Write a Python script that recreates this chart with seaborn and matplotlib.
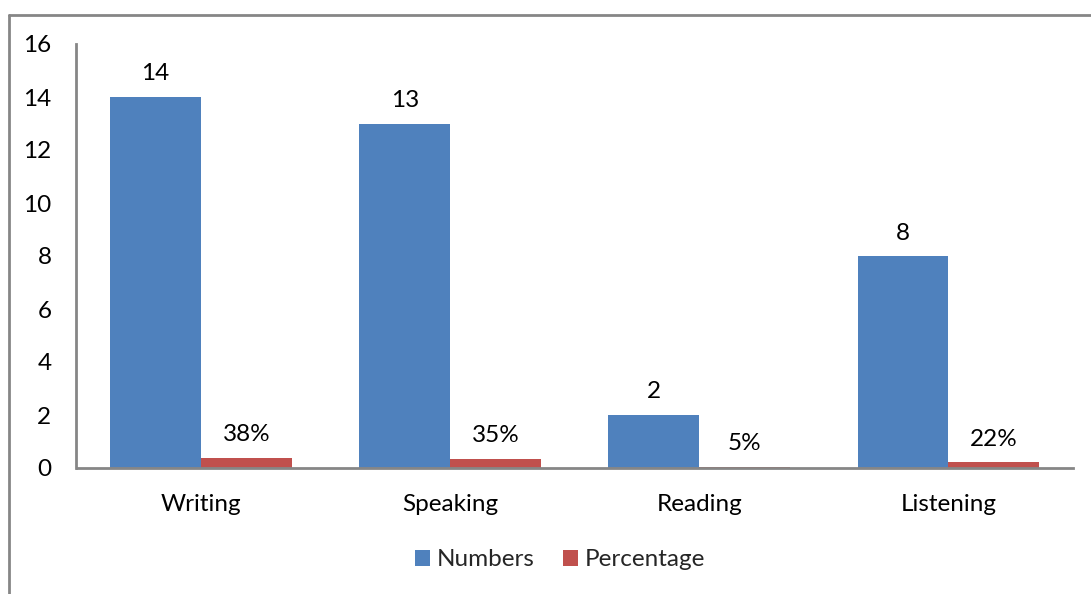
import matplotlib
matplotlib.use("Agg")
import matplotlib.pyplot as plt
from matplotlib.lines import Line2D
from matplotlib.patches import Patch
import pandas as pd
import seaborn as sns

skills = ["Writing", "Speaking", "Reading", "Listening"]
numbers = [14, 13, 2, 8]
percentage = [0.38, 0.35, 0.05, 0.22]
series_names = ["Numbers", "Percentage"]
yticks = [0, 2, 4, 6, 8, 10, 12, 14, 16]

blue = "#4F81BD"
red = "#C0504D"
grey = "#868686"
fs = 17.5

df = pd.DataFrame({
    "Skill": skills * 2,
    "Series": [series_names[0]] * len(skills) + [series_names[1]] * len(skills),
    "Value": numbers + percentage,
})

sns.set_theme(style="white")
plt.rcParams["font.family"] = ["Lato", "DejaVu Sans"]

fig = plt.figure(figsize=(10.91, 5.94), dpi=100)
ax = fig.add_axes([76.5 / 1091, 1 - 468 / 594, (1073 - 76.5) / 1091, (468 - 44) / 594])

sns.barplot(data=df, x="Skill", y="Value", hue="Series", order=skills,
            hue_order=series_names, palette=[blue, red], width=0.73, gap=0,
            saturation=1, legend=False, ax=ax, errorbar=None, linewidth=0)

# value labels above each bar
for container, fmt in zip(ax.containers, ["{:.0f}", "{:.0%}"]):
    labels = [fmt.format(v) for v in container.datavalues]
    ax.bar_label(container, labels=labels, padding=9, fontsize=fs, color="black")

ax.set_xlim(-0.5, 3.5)
ax.set_ylim(0, 16)
ax.set_yticks(yticks)
ax.set_xlabel("")
ax.set_ylabel("")
ax.tick_params(axis="both", length=0, labelsize=fs, colors="black")
ax.tick_params(axis="y", pad=18)
ax.tick_params(axis="x", pad=19)
for side in ["top", "right"]:
    ax.spines[side].set_visible(False)
for side in ["left", "bottom"]:
    ax.spines[side].set_color(grey)
    ax.spines[side].set_linewidth(2)
ax.grid(False)

handles = [Patch(facecolor=blue, edgecolor="none"), Patch(facecolor=red, edgecolor="none")]
fig.legend(handles, series_names, loc="center", bbox_to_anchor=(560 / 1091, 1 - 560 / 594),
           ncol=2, frameon=False, fontsize=fs, handlelength=0.62, handleheight=0.62,
           handletextpad=0.3, columnspacing=1.15)

# chart area frame (left and top edges)
fx = 8.5 / 1091
fy = 1 - 14.5 / 594
fig.add_artist(Line2D([fx, fx], [0, fy], transform=fig.transFigure, color=grey, lw=2))
fig.add_artist(Line2D([fx, 1], [fy, fy], transform=fig.transFigure, color=grey, lw=2))

fig.savefig("out.png", dpi=100, facecolor="white")
